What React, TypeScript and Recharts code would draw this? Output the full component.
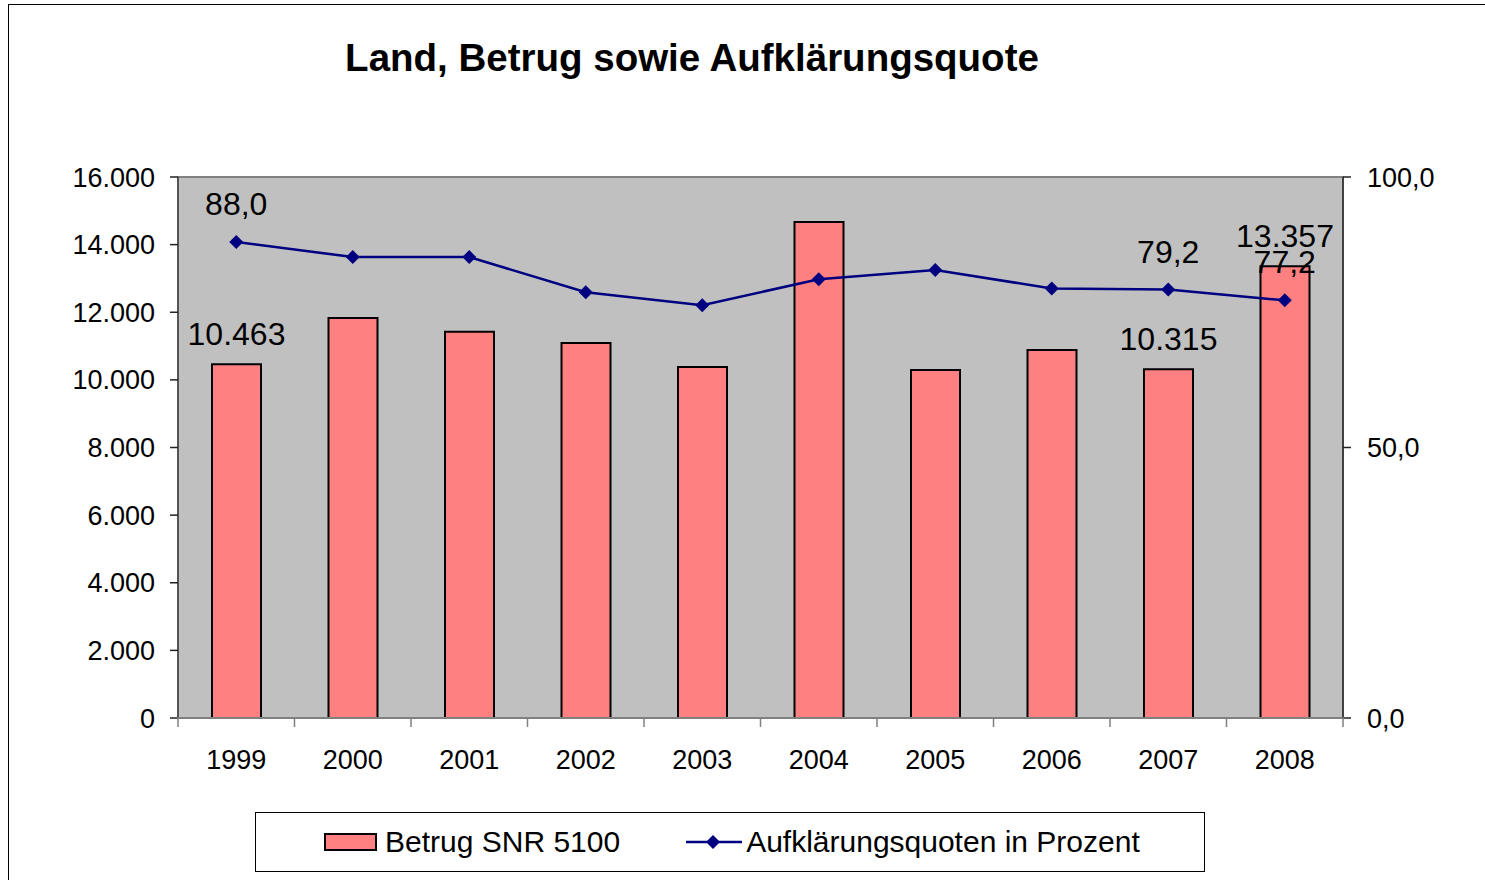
import { ComposedChart, Bar, Line, XAxis, YAxis, ReferenceArea, LabelList } from "recharts";

const JAHRE = ["1999", "2000", "2001", "2002", "2003", "2004", "2005", "2006", "2007", "2008"];
const BETRUG = [10463, 11830, 11420, 11090, 10380, 14670, 10290, 10880, 10315, 13357];
const QUOTE = [88.0, 85.2, 85.2, 78.7, 76.3, 81.1, 82.8, 79.4, 79.2, 77.2];
// nur diese Jahre tragen Datenbeschriftungen
const BESCHRIFTET = ["1999", "2007", "2008"];
const LINKS_TICKS = [0, 2000, 4000, 6000, 8000, 10000, 12000, 14000, 16000];
const RECHTS_TICKS = [0, 50, 100];

const FONT = "'Liberation Sans', Arial, sans-serif";
const KAT_ABSTAND = 32; // Abstand Achse -> Jahreszahl

const tausender = (v: number) => String(Math.round(v)).replace(/\B(?=(\d{3})+(?!\d))/g, ".");
const prozent = (v: number) => v.toFixed(1).replace(".", ",");

const data = JAHRE.map((jahr, i) => ({
  jahr,
  betrug: BETRUG[i],
  quote: QUOTE[i],
  betrugLabel: BESCHRIFTET.includes(jahr) ? tausender(BETRUG[i]) : null,
  quoteLabel: BESCHRIFTET.includes(jahr) ? prozent(QUOTE[i]) : null,
}));

const Raute = (props: any) => {
  const { cx, cy } = props;
  if (cx == null || cy == null) return null;
  const r = 7;
  return (
    <polygon
      points={`${cx},${cy - r} ${cx + r},${cy} ${cx},${cy + r} ${cx - r},${cy}`}
      fill="#000080"
      stroke="none"
    />
  );
};

// Jahreszahl plus Teilstriche an den Kategoriegrenzen (Excel-Stil)
const JahrTick = (props: any) => {
  const { x, y, payload, index, visibleTicksCount } = props;
  const halb = payload?.offset ?? 0;
  const achseY = y - KAT_ABSTAND;
  const letzter = index === visibleTicksCount - 1;
  return (
    <g>
      <line x1={x - halb} y1={achseY - 1} x2={x - halb} y2={achseY + 9} stroke="#808080" strokeWidth={1.5} />
      {letzter && (
        <line x1={x + halb} y1={achseY - 1} x2={x + halb} y2={achseY + 9} stroke="#808080" strokeWidth={1.5} />
      )}
      <text x={x} y={y} dy="0.71em" textAnchor="middle" fontSize={27} fill="#000" fontFamily={FONT}>
        {payload.value}
      </text>
    </g>
  );
};

const tickStyle = { fontSize: 27, fill: "#000", fontFamily: FONT };

export default function App() {
  return (
    <div style={{ position: "absolute", left: 0, top: 0, width: 1485, height: 880, overflow: "hidden", background: "#fff" }}>
      <div
        style={{
          position: "absolute",
          left: 8,
          top: 4,
          width: 1520,
          height: 920,
          border: "1.5px solid #000",
          boxSizing: "border-box",
        }}
      />
      <div
        style={{
          position: "absolute",
          left: 0,
          width: 1384,
          top: 39,
          textAlign: "center",
          fontFamily: FONT,
          fontWeight: "bold",
          fontSize: 38.5,
          lineHeight: "38px",
          color: "#000",
        }}
      >
        Land, Betrug sowie Aufklärungsquote
      </div>

      <div style={{ position: "absolute", left: 0, top: 0 }}>
        <ComposedChart width={1485} height={880} data={data} margin={{ top: 177, right: 42, left: 98, bottom: 102 }}>
          <XAxis
            xAxisId="kat"
            dataKey="jahr"
            height={60}
            interval={0}
            axisLine={{ stroke: "#808080", strokeWidth: 2 }}
            tickLine={false}
            tickSize={0}
            tickMargin={KAT_ABSTAND}
            tick={<JahrTick />}
          />
          <YAxis
            yAxisId="links"
            domain={[0, 16000]}
            ticks={LINKS_TICKS}
            tickFormatter={tausender}
            width={80}
            tickSize={8}
            tickMargin={15}
            tick={tickStyle}
            axisLine={{ stroke: "#555", strokeWidth: 2 }}
            tickLine={{ stroke: "#222", strokeWidth: 1.5 }}
          />
          <YAxis
            yAxisId="rechts"
            orientation="right"
            domain={[0, 100]}
            ticks={RECHTS_TICKS}
            tickFormatter={prozent}
            width={100}
            tickSize={8}
            tickMargin={16}
            tick={tickStyle}
            axisLine={{ stroke: "#404040", strokeWidth: 2 }}
            tickLine={{ stroke: "#222", strokeWidth: 1.5 }}
          />
          <ReferenceArea
            xAxisId="kat"
            yAxisId="links"
            y1={0}
            y2={16000}
            fill="#C0C0C0"
            fillOpacity={1}
            stroke="#808080"
            strokeWidth={2}
            ifOverflow="visible"
          />
          <Bar
            xAxisId="kat"
            yAxisId="links"
            dataKey="betrug"
            fill="#FF8080"
            stroke="#000"
            strokeWidth={2}
            barSize={49}
            isAnimationActive={false}
          >
            <LabelList dataKey="betrugLabel" position="top" offset={19} fill="#000" fontSize={32} fontFamily={FONT} />
          </Bar>
          <Line
            xAxisId="kat"
            yAxisId="rechts"
            dataKey="quote"
            type="linear"
            stroke="#000080"
            strokeWidth={2.5}
            dot={<Raute />}
            activeDot={false}
            isAnimationActive={false}
          >
            <LabelList dataKey="quoteLabel" position="top" offset={27} fill="#000" fontSize={32} fontFamily={FONT} />
          </Line>
        </ComposedChart>
      </div>

      <div
        style={{
          position: "absolute",
          left: 255,
          top: 812,
          width: 950,
          height: 60,
          border: "1.5px solid #000",
          boxSizing: "border-box",
          background: "#fff",
          fontFamily: FONT,
          fontSize: 30,
          color: "#000",
          display: "flex",
          alignItems: "center",
        }}
      >
        <div
          style={{
            marginLeft: 68,
            width: 53,
            height: 18,
            background: "#FF8080",
            border: "2px solid #000",
            boxSizing: "border-box",
          }}
        />
        <span style={{ marginLeft: 8 }}>Betrug SNR 5100</span>
        <svg width={56} height={20} style={{ marginLeft: 66 }}>
          <line x1={0} y1={10} x2={56} y2={10} stroke="#000080" strokeWidth={2.5} />
          <polygon points="27,3 34,10 27,17 20,10" fill="#000080" />
        </svg>
        <span style={{ marginLeft: 4 }}>Aufklärungsquoten in Prozent</span>
      </div>
    </div>
  );
}
